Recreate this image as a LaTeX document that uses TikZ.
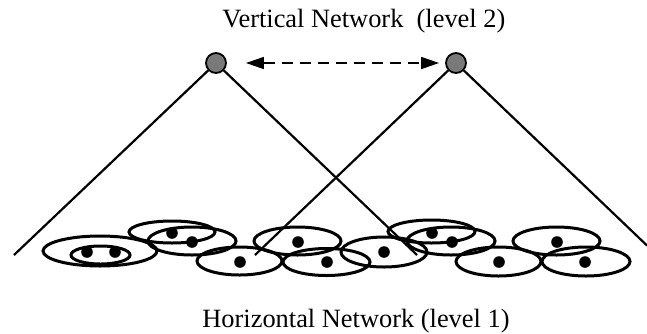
\documentclass[tikz,border=0pt]{standalone}
\usepackage{fontspec}
\setmainfont{Liberation Serif}
\usetikzlibrary{arrows.meta}
\tikzset{
  hub/.style={circle, draw=black, fill=gray!95!black, line width=0.9pt, minimum size=10pt, inner sep=0pt},
  link/.style={line width=1.1pt},
  peer/.style={line width=1.5pt},
  member/.style={fill=black},
  lbl/.style={inner sep=0pt, anchor=base west, font=\fontsize{13.2}{15}\selectfont},
  vlink/.style={line width=0.75pt, dash pattern=on 5.5pt off 3.5pt, {Triangle[length=9pt,width=6pt]}-{Triangle[length=9pt,width=6pt]}}
}
\newcommand{\peerell}[4]{\draw[peer] (#1,#2) ellipse [x radius={#3*0.5pt}, y radius={#4*0.5pt}];}
\newcommand{\memdot}[2]{\fill[member] (#1,#2) circle [radius=2.9pt];}
\begin{document}
\begin{tikzpicture}[x=0.5pt,y=-0.5pt]
\useasboundingbox (0,0) rectangle (647,333);
% labels
\node[lbl] (top) at (222,27) {Vertical Network\ \ (level 2)};
\node[lbl] (bot) at (202,327) {Horizontal Network (level 1)};
% end points of the cone lines
\coordinate (l1) at (14,255);
\coordinate (l2) at (417,255);
\coordinate (r1) at (255,255);
\coordinate (r2) at (647,245.5);
% hubs
\node[hub] (n1) at (216,63) {};
\node[hub] (n2) at (456,63) {};
\draw[link] (n1) -- (l1);
\draw[link] (n1) -- (l2);
\draw[link] (n2) -- (r1);
\draw[link] (n2) -- (r2);
\draw[vlink, shorten <=9.5pt, shorten >=3pt] (n1) -- (n2);
% ellipses
\peerell{100}{251}{57}{15}
\peerell{100.5}{255}{29.5}{9}
\peerell{172}{232}{43}{11}
\peerell{192}{241}{44}{14}
\peerell{239.5}{261}{42.5}{14}
\peerell{297.5}{241}{43.5}{14}
\peerell{326.5}{262}{43.5}{13.5}
\peerell{384}{252}{43}{15}
\peerell{431.5}{231.5}{43.5}{11.5}
\peerell{451}{241}{44}{14}
\peerell{498.5}{261.5}{42.5}{14.5}
\peerell{556.5}{241}{43.5}{14}
\peerell{586}{261.5}{44}{14.5}
% dots
\memdot{87}{252}
\memdot{115}{252}
\memdot{172}{233}
\memdot{192}{242}
\memdot{240}{262}
\memdot{298}{242}
\memdot{327}{262}
\memdot{384}{252}
\memdot{432}{233}
\memdot{452}{242}
\memdot{499}{262}
\memdot{557}{242}
\memdot{585}{262}
\end{tikzpicture}
\end{document}
